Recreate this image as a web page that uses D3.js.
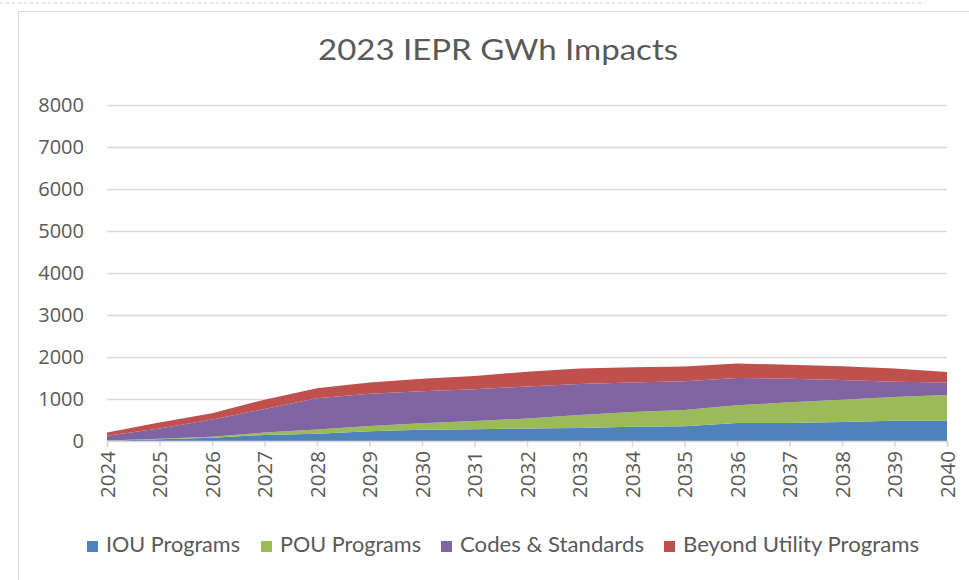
<!DOCTYPE html>
<html>
<head>
<meta charset="utf-8">
<script src="https://cdn.jsdelivr.net/npm/d3@7"></script>
<style>
  body { margin: 0; background: #fff; overflow: hidden; }
  svg { display: block; }
  text { fill: #595959; }
</style>
</head>
<body>
<script>
const width = 969;
const height = 580;

// data (GWh)
const years = [2024, 2025, 2026, 2027, 2028, 2029, 2030, 2031, 2032,
               2033, 2034, 2035, 2036, 2037, 2038, 2039, 2040];
const iouPrograms = [5, 40, 80, 145, 170, 230, 265, 280, 295, 310, 340, 352, 430, 428, 452, 480, 485];
const pouPrograms = [5, 15, 22, 55, 105, 130, 155, 198, 240, 310, 350, 388, 420, 492, 530, 565, 610];
const codesStandards = [115, 245, 410, 560, 745, 765, 765, 757, 765, 735, 705, 680, 648, 565, 470, 365, 295];
const beyondUtility = [80, 140, 150, 225, 235, 265, 300, 315, 350, 370, 360, 355, 347, 330, 328, 315, 250];
const seriesNames = ["IOU Programs", "POU Programs", "Codes & Standards", "Beyond Utility Programs"];
const colors = ["#4f81bd", "#9bbb59", "#8064a2", "#c0504d"];
const yTicks = [0, 1000, 2000, 3000, 4000, 5000, 6000, 7000, 8000];

const rows = years.map((y, i) => ({
  year: y,
  "IOU Programs": iouPrograms[i],
  "POU Programs": pouPrograms[i],
  "Codes & Standards": codesStandards[i],
  "Beyond Utility Programs": beyondUtility[i]
}));

const svg = d3.select("body").append("svg")
    .attr("width", width)
    .attr("height", height);

// frame like the pasted office chart
svg.append("line")
    .attr("x1", 0).attr("x2", 925).attr("y1", 3).attr("y2", 3)
    .attr("stroke", "#c8c8c8").attr("stroke-dasharray", "3,3");
svg.append("rect")
    .attr("x", 18.5).attr("y", 11.5)
    .attr("width", width).attr("height", height)
    .attr("fill", "none").attr("stroke", "#d9d9d9");

const x = d3.scaleLinear().domain([2024, 2040]).range([107, 947]);
const y = d3.scaleLinear().domain([0, 8000]).range([441, 105]);

// gridlines
svg.append("g").selectAll("line")
  .data(yTicks.slice(1))
  .join("line")
    .attr("x1", x(2024)).attr("x2", x(2040))
    .attr("y1", d => y(d) + 0.5).attr("y2", d => y(d) + 0.5)
    .attr("stroke", "#d9d9d9").attr("stroke-width", 1.5);

const stack = d3.stack().keys(seriesNames);
const layers = stack(rows);

const area = d3.area()
    .x(d => x(d.data.year))
    .y0(d => y(d[0]))
    .y1(d => y(d[1]));

svg.append("g").selectAll("path")
  .data(layers)
  .join("path")
    .attr("d", area)
    .attr("fill", (d, i) => colors[i]);

// y axis labels
svg.append("g").selectAll("text")
  .data(yTicks)
  .join("text")
    .attr("x", 84)
    .attr("y", d => y(d))
    .attr("dy", "0.35em")
    .attr("text-anchor", "end")
    .style("font-family", "'Open Sans'")
    .style("font-size", "20px")
    .text(d => d);

// x axis
const xAxis = d3.axisBottom(x)
    .tickValues(years)
    .tickFormat(d3.format("d"))
    .tickSize(6)
    .tickPadding(8);

const gx = svg.append("g")
    .attr("transform", `translate(0,${y(0)})`)
    .call(xAxis);
gx.select(".domain").attr("stroke", "#d9d9d9").attr("stroke-width", 1.5);
gx.selectAll(".tick line").attr("stroke", "#d9d9d9").attr("stroke-width", 1.5);
gx.selectAll(".tick text")
    .attr("transform", "rotate(-90)")
    .attr("x", -10)
    .attr("y", 0)
    .attr("dy", "0.35em")
    .attr("text-anchor", "end")
    .attr("fill", "#595959")
    .style("font-family", "'Open Sans'")
    .style("font-size", "20.5px");

// title
svg.append("text")
    .attr("x", 498)
    .attr("y", 60)
    .attr("text-anchor", "middle")
    .attr("textLength", 360)
    .attr("lengthAdjust", "spacingAndGlyphs")
    .style("font-family", "Lato")
    .style("font-size", "29px")
    .text("2023 IEPR GWh Impacts");

// legend
const legendX = [87, 261, 441, 664];
const legendW = [134, 141, 184, 236];
const legend = svg.append("g").selectAll("g")
  .data(seriesNames)
  .join("g")
    .attr("transform", (d, i) => `translate(${legendX[i]},541)`);
legend.append("rect")
    .attr("width", 11).attr("height", 11)
    .attr("fill", (d, i) => colors[i]);
legend.append("text")
    .attr("x", 19)
    .attr("y", 11)
    .attr("textLength", (d, i) => legendW[i])
    .attr("lengthAdjust", "spacingAndGlyphs")
    .style("font-family", "Lato")
    .style("font-size", "21px")
    .text(d => d);
</script>
</body>
</html>
